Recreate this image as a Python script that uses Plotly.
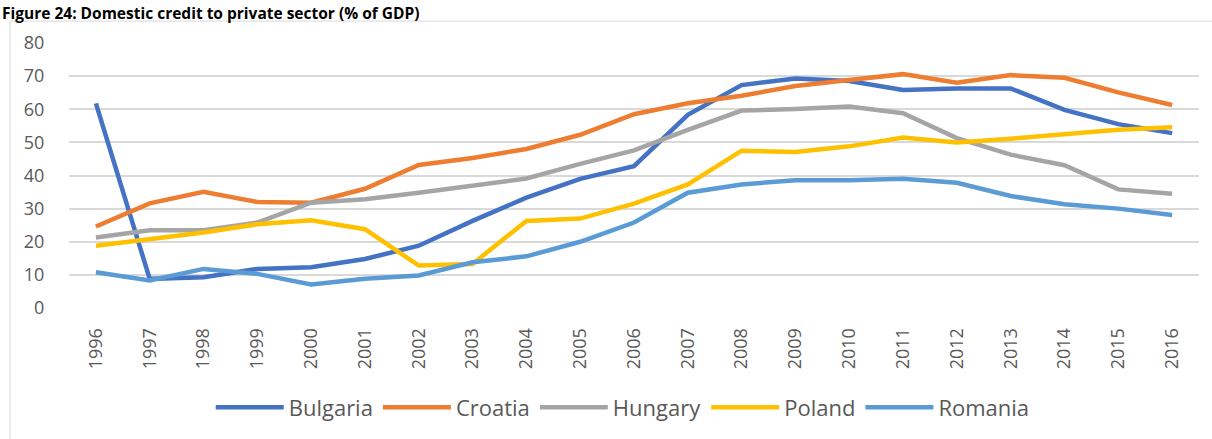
import plotly.graph_objects as go

years = [str(y) for y in range(1996, 2017)]

bulgaria = [61.8, 8.8, 9.3, 11.8, 12.3, 14.8, 18.8, 26.3, 33.3, 39.0, 42.8,
            58.3, 67.3, 69.3, 68.5, 65.8, 66.3, 66.3, 59.8, 55.5, 52.8]
croatia = [24.6, 31.6, 35.1, 32.0, 31.8, 36.0, 43.2, 45.3, 48.0, 52.3, 58.5,
           61.8, 64.1, 67.0, 68.8, 70.6, 68.0, 70.3, 69.5, 65.1, 61.3]
hungary = [21.3, 23.5, 23.5, 25.8, 31.8, 32.8, 34.8, 36.8, 39.1, 43.5, 47.6,
           53.8, 59.6, 60.1, 60.8, 58.8, 51.3, 46.3, 43.1, 35.8, 34.5]
poland = [18.8, 20.8, 22.8, 25.3, 26.5, 23.8, 12.8, 13.3, 26.3, 27.0, 31.5,
          37.3, 47.5, 47.1, 48.8, 51.5, 50.0, 51.1, 52.5, 53.8, 54.6]
romania = [10.8, 8.3, 11.8, 10.3, 7.1, 8.8, 9.8, 13.8, 15.6, 20.0, 25.8,
           34.8, 37.3, 38.6, 38.6, 39.0, 37.8, 33.8, 31.3, 30.0, 28.1]

series_names = ["Bulgaria", "Croatia", "Hungary", "Poland", "Romania"]
series_values = [bulgaria, croatia, hungary, poland, romania]
colors = ["#4472C4", "#ED7D31", "#A5A5A5", "#FFC000", "#5B9BD5"]

title_text = "Figure 24: Domestic credit to private sector (% of GDP)"

fig = go.Figure()
for name, vals, col in zip(series_names, series_values, colors):
    fig.add_trace(go.Scatter(
        x=years, y=vals, name=name, mode="lines",
        line=dict(color=col, width=4.5),
    ))

fig.update_layout(
    width=1212, height=439,
    margin=dict(l=69, r=13, t=43, b=130),
    paper_bgcolor="white", plot_bgcolor="white",
    font=dict(family="Open Sans", color="#595959"),
    showlegend=True,
    legend=dict(
        orientation="h", x=0.49, xanchor="center",
        y=-0.37, yanchor="middle",
        font=dict(size=22, color="#595959"),
        itemwidth=68, traceorder="normal",
        bgcolor="rgba(0,0,0,0)",
    ),
    xaxis=dict(
        type="category", tickangle=-90, range=[-0.5, 20.5],
        showgrid=False, zeroline=False, showline=False,
        ticks="outside", ticklen=12, tickcolor="rgba(0,0,0,0)",
        tickfont=dict(size=18, color="#595959"),
    ),
    yaxis=dict(
        range=[0, 80], dtick=10,
        showgrid=True, gridcolor="#D9D9D9", gridwidth=1.5,
        zeroline=False, showline=False,
        ticks="outside", ticklen=20, tickcolor="rgba(0,0,0,0)",
        tickfont=dict(size=18, color="#595959"),
    ),
    shapes=[dict(
        type="rect", xref="paper", yref="paper",
        x0=-0.0522, x1=1.06, y0=-0.7, y1=1.0826,
        line=dict(color="#D9D9D9", width=1), layer="below",
    )],
    annotations=[dict(
        text="<b>" + title_text + "</b>",
        xref="paper", yref="paper", x=-0.061, y=1.1605,
        xanchor="left", yanchor="top", showarrow=False,
        font=dict(family="Open Sans", size=15.5, color="#000000"),
    )],
)

fig.write_html(
    "out.html",
    config={"displayModeBar": False},
    post_script="document.body.style.margin='0';document.body.style.overflow='hidden';",
)
